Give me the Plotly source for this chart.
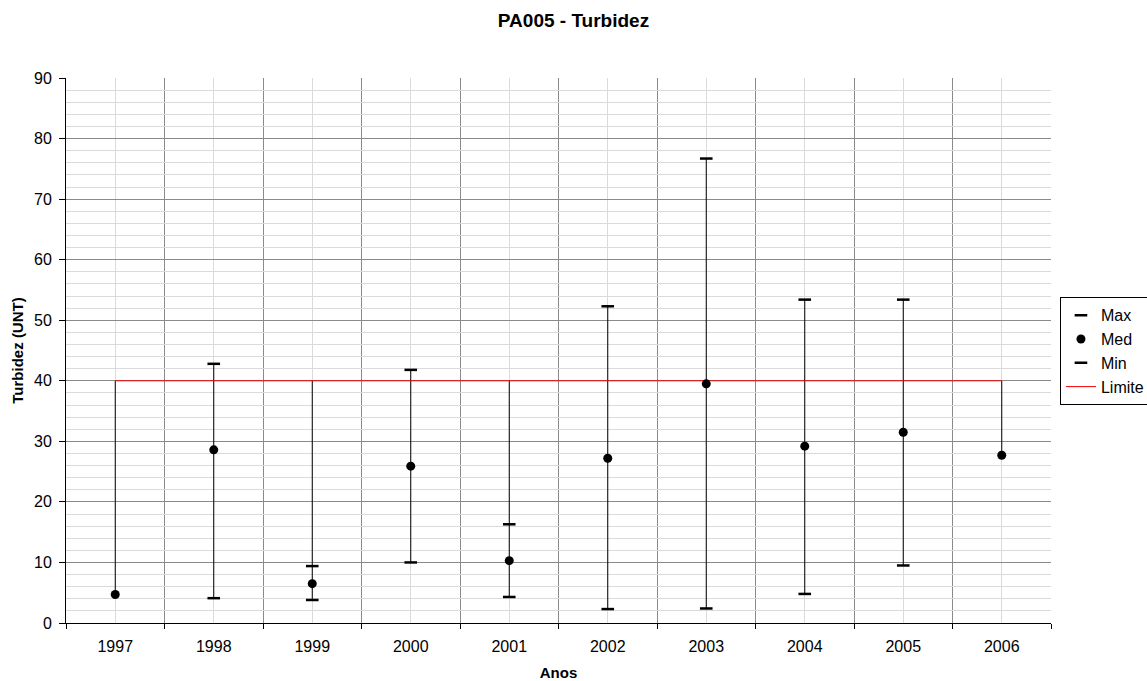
import plotly.graph_objects as go

anos = ["1997", "1998", "1999", "2000", "2001", "2002", "2003", "2004", "2005", "2006"]
maximo = [None, 42.8, 9.4, 41.8, 16.3, 52.3, 76.7, 53.4, 53.4, None]
mediana = [4.7, 28.6, 6.5, 25.9, 10.3, 27.2, 39.5, 29.2, 31.5, 27.7]
minimo = [None, 4.1, 3.8, 10.0, 4.3, 2.3, 2.4, 4.8, 9.5, None]
limite = [40, 40, 40, 40, 40, 40, 40, 40, 40, 40]

xs = list(range(len(anos)))

# high-low lines (Excel style: span all series at each category)
hlx, hly = [], []
for i in xs:
    vals = [v for v in (maximo[i], mediana[i], minimo[i], limite[i]) if v is not None]
    hlx += [i, i, None]
    hly += [min(vals), max(vals), None]

fig = go.Figure()
fig.add_trace(go.Scatter(x=hlx, y=hly, mode="lines", line=dict(color="black", width=1),
                         showlegend=False, hoverinfo="skip"))
fig.add_trace(go.Scatter(x=xs, y=limite, mode="lines", name="Limite", legendgroup="d",
                         legendrank=4, line=dict(color="#f00000", width=1)))
fig.add_trace(go.Scatter(x=xs, y=maximo, mode="markers", name="Max", legendgroup="a",
                         legendrank=1,
                         marker=dict(symbol="line-ew", size=9, color="black",
                                     line=dict(color="black", width=2.5))))
fig.add_trace(go.Scatter(x=xs, y=mediana, mode="markers", name="Med", legendgroup="b",
                         legendrank=2,
                         marker=dict(symbol="circle", size=9, color="black")))
fig.add_trace(go.Scatter(x=xs, y=minimo, mode="markers", name="Min", legendgroup="c",
                         legendrank=3,
                         marker=dict(symbol="line-ew", size=9, color="black",
                                     line=dict(color="black", width=2.5))))

font = "Liberation Sans, Arial, sans-serif"
fig.update_layout(
    width=1147, height=681,
    paper_bgcolor="white", plot_bgcolor="white",
    margin=dict(l=66, r=96, t=78, b=58, autoexpand=False),
    font=dict(family=font, size=16, color="black"),
    title=dict(text="<b>PA005 - Turbidez</b>", x=0.5, xref="container", xanchor="center",
               y=0.9706, yanchor="middle", font=dict(size=19)),
    showlegend=True,
    legend=dict(x=1.0091, y=0.5976, xanchor="left", yanchor="top",
                bordercolor="black", borderwidth=1, bgcolor="white",
                font=dict(size=16), traceorder="grouped", tracegroupgap=0,
                itemwidth=30),
    xaxis=dict(
        range=[-0.5, 9.5], tickmode="array", tickvals=xs, ticktext=anos,
        showgrid=True, gridcolor="#dadada", gridwidth=1,
        ticks="", showline=True, linecolor="black", linewidth=1,
        zeroline=False, mirror=False, automargin=False, ticklabelstandoff=9,
        minor=dict(tick0=0.5, dtick=1, showgrid=True, gridcolor="#8a8a8a",
                   gridwidth=1, ticks="outside", ticklen=5, tickcolor="black"),
        title=dict(text="<b>Anos</b>", font=dict(size=15), standoff=18),
        tickfont=dict(size=16),
    ),
    yaxis=dict(
        range=[0, 90], dtick=10, tick0=0,
        showgrid=True, gridcolor="#8a8a8a", gridwidth=1,
        ticks="outside", ticklen=6, tickcolor="black", ticklabelstandoff=4,
        showline=True, linecolor="black", linewidth=1, zeroline=False, automargin=False,
        minor=dict(dtick=2, showgrid=True, gridcolor="#dadada", gridwidth=1),
        title=dict(text="<b>Turbidez (UNT)</b>", font=dict(size=15), standoff=6),
        tickfont=dict(size=16),
    ),
)

fig.write_html(
    "out.html",
    config={"displayModeBar": False},
    post_script="document.body.style.margin='0';document.body.style.overflow='hidden';",
)
